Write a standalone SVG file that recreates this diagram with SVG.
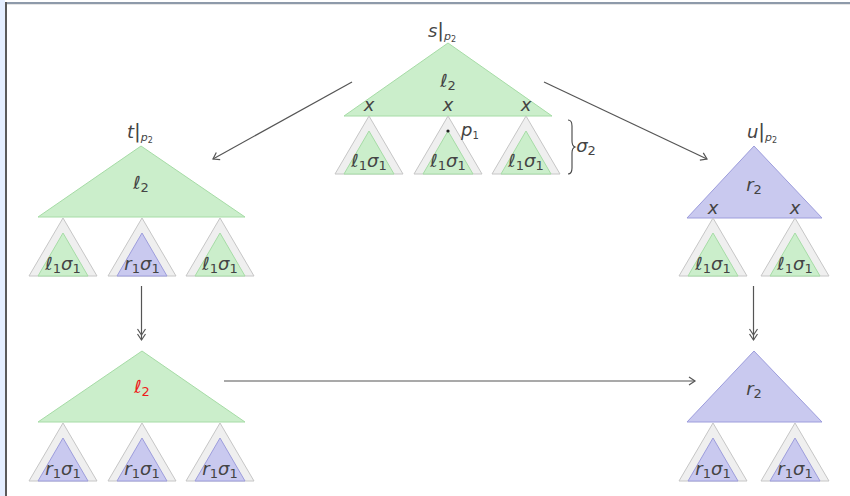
<svg xmlns="http://www.w3.org/2000/svg" width="850" height="496" viewBox="0 0 850 496">
<style>
.bg{fill:#ffffff}
.g{fill:#cbeecb;stroke:#a6dca6;stroke-width:1}
.b{fill:#c9c9ef;stroke:#9d9ddc;stroke-width:1}
.o{fill:#efefef;stroke:#c6c6c6;stroke-width:1}
.t{font-family:"DejaVu Sans",sans-serif;font-size:18px;fill:#444;text-anchor:middle}
.i{font-style:italic}
.s{font-size:13px}
.c{fill:none;stroke:#555;stroke-width:1.2}
.red{fill:#ee1c1c}
</style>
<defs>
<marker id="ah" markerUnits="userSpaceOnUse" markerWidth="14" markerHeight="14" viewBox="-10 -7 14 14" refX="0" refY="0" orient="auto">
<path d="M-6,-4 L0,0 L-6,4" fill="none" stroke="#555" stroke-width="1.2"/>
</marker>
<marker id="ah2" markerUnits="userSpaceOnUse" markerWidth="16" markerHeight="14" viewBox="-12 -7 16 14" refX="0" refY="0" orient="auto">
<path d="M-6,-4 L0,0 L-6,4 M-11,-4 L-5,0 L-11,4" fill="none" stroke="#555" stroke-width="1.2"/>
</marker>
</defs>
<rect x="0" y="0" width="850" height="496" class="bg"/>
<rect x="0" y="0" width="5" height="496" fill="#e4eeff"/>
<rect x="5" y="2" width="845" height="2" fill="#8e9aaa"/>
<rect x="5" y="4" width="845" height="1" fill="#e6e6e6"/>
<rect x="5" y="2" width="2" height="494" fill="#5a5a5a"/>

<g id="connectors">
<line class="c" x1="352" y1="82" x2="213" y2="159" marker-end="url(#ah)"/>
<line class="c" x1="544" y1="82" x2="707" y2="159" marker-end="url(#ah)"/>
<line class="c" x1="141.5" y1="286" x2="141.5" y2="340" marker-end="url(#ah2)"/>
<line class="c" x1="753.5" y1="286" x2="753.5" y2="340" marker-end="url(#ah2)"/>
<line class="c" x1="224" y1="381" x2="695" y2="381" marker-end="url(#ah)"/>
</g>

<g id="s-tree">
<text class="t" x="442" y="37"><tspan class="i">s</tspan><tspan font-size="20">|</tspan><tspan class="i" font-size="11" dy="3">p</tspan><tspan font-size="8" dy="1.5">2</tspan></text>
<polygon class="g" points="448,43 344,116 552,116"/>
<text class="t" x="448" y="87">ℓ<tspan class="s" dy="3">2</tspan></text>
<text class="t i" x="369" y="111" font-size="15">x</text>
<text class="t i" x="448" y="111" font-size="15">x</text>
<text class="t i" x="526" y="111" font-size="15">x</text>
</g>
<g id="s-sub1">
<polygon class="o" points="369,116 335,174 403,174"/>
<polygon class="g" points="369,131 344,174 394,174"/>
<text class="t" x="369" y="167">ℓ<tspan class="s" dy="3">1</tspan><tspan class="i" dy="-3">σ</tspan><tspan class="s" dy="3">1</tspan></text>
</g>
<g id="s-sub2">
<polygon class="o" points="448,116 414,174 482,174"/>
<polygon class="g" points="448,131 423,174 473,174"/>
<circle cx="448" cy="131" r="1.6" fill="#222"/>
<text class="t" x="448" y="167">ℓ<tspan class="s" dy="3">1</tspan><tspan class="i" dy="-3">σ</tspan><tspan class="s" dy="3">1</tspan></text>
<text class="t i" x="470" y="136" font-size="14">p<tspan font-size="10" font-style="normal" dy="3">1</tspan></text>
</g>
<g id="s-sub3">
<polygon class="o" points="526,116 492,174 560,174"/>
<polygon class="g" points="526,131 501,174 551,174"/>
<text class="t" x="526" y="167">ℓ<tspan class="s" dy="3">1</tspan><tspan class="i" dy="-3">σ</tspan><tspan class="s" dy="3">1</tspan></text>
</g>
<g id="sigma2">
<path d="M568,120 Q572,120 572,126 L572,141 Q572,146 575,147 Q572,148 572,153 L572,168 Q572,174 568,174" fill="none" stroke="#444" stroke-width="1.1"/>
<text class="t i" x="586" y="152">σ<tspan class="s" font-style="normal" dy="3">2</tspan></text>
</g>

<g id="t-tree">
<text class="t" x="140" y="138"><tspan class="i">t</tspan><tspan font-size="20">|</tspan><tspan class="i" font-size="11" dy="3">p</tspan><tspan font-size="8" dy="1.5">2</tspan></text>
<polygon class="g" points="141,146 38,217 245,217"/>
<text class="t" x="141" y="189">ℓ<tspan class="s" dy="3">2</tspan></text>
</g>
<g id="t-sub1">
<polygon class="o" points="63,218 29,276 97,276"/>
<polygon class="g" points="63,233 38,276 88,276"/>
<text class="t" x="63" y="270">ℓ<tspan class="s" dy="3">1</tspan><tspan class="i" dy="-3">σ</tspan><tspan class="s" dy="3">1</tspan></text>
</g>
<g id="t-sub2">
<polygon class="o" points="142,218 108,276 176,276"/>
<polygon class="b" points="142,233 117,276 167,276"/>
<text class="t" x="142" y="270"><tspan class="i">r</tspan><tspan class="s" dy="3">1</tspan><tspan class="i" dy="-3">σ</tspan><tspan class="s" dy="3">1</tspan></text>
</g>
<g id="t-sub3">
<polygon class="o" points="220,218 186,276 254,276"/>
<polygon class="g" points="220,233 195,276 245,276"/>
<text class="t" x="220" y="270">ℓ<tspan class="s" dy="3">1</tspan><tspan class="i" dy="-3">σ</tspan><tspan class="s" dy="3">1</tspan></text>
</g>

<g id="u-tree">
<text class="t" x="762" y="138"><tspan class="i">u</tspan><tspan font-size="20">|</tspan><tspan class="i" font-size="11" dy="3">p</tspan><tspan font-size="8" dy="1.5">2</tspan></text>
<polygon class="b" points="754,146 687,218 822,218"/>
<text class="t" x="754" y="191"><tspan class="i">r</tspan><tspan class="s" dy="3">2</tspan></text>
<text class="t i" x="713" y="214" font-size="15">x</text>
<text class="t i" x="795" y="214" font-size="15">x</text>
</g>
<g id="u-sub1">
<polygon class="o" points="713,218 679,276 747,276"/>
<polygon class="g" points="713,233 688,276 738,276"/>
<text class="t" x="713" y="270">ℓ<tspan class="s" dy="3">1</tspan><tspan class="i" dy="-3">σ</tspan><tspan class="s" dy="3">1</tspan></text>
</g>
<g id="u-sub2">
<polygon class="o" points="795,218 761,276 829,276"/>
<polygon class="g" points="795,233 770,276 820,276"/>
<text class="t" x="795" y="270">ℓ<tspan class="s" dy="3">1</tspan><tspan class="i" dy="-3">σ</tspan><tspan class="s" dy="3">1</tspan></text>
</g>

<g id="bl-tree">
<polygon class="g" points="142,351 38,422 245,422"/>
<text class="t red" x="142" y="393">ℓ<tspan class="s" dy="3">2</tspan></text>
</g>
<g id="bl-sub1">
<polygon class="o" points="63,423 29,481 97,481"/>
<polygon class="b" points="63,438 38,481 88,481"/>
<text class="t" x="63" y="475"><tspan class="i">r</tspan><tspan class="s" dy="3">1</tspan><tspan class="i" dy="-3">σ</tspan><tspan class="s" dy="3">1</tspan></text>
</g>
<g id="bl-sub2">
<polygon class="o" points="142,423 108,481 176,481"/>
<polygon class="b" points="142,438 117,481 167,481"/>
<text class="t" x="142" y="475"><tspan class="i">r</tspan><tspan class="s" dy="3">1</tspan><tspan class="i" dy="-3">σ</tspan><tspan class="s" dy="3">1</tspan></text>
</g>
<g id="bl-sub3">
<polygon class="o" points="220,423 186,481 254,481"/>
<polygon class="b" points="220,438 195,481 245,481"/>
<text class="t" x="220" y="475"><tspan class="i">r</tspan><tspan class="s" dy="3">1</tspan><tspan class="i" dy="-3">σ</tspan><tspan class="s" dy="3">1</tspan></text>
</g>

<g id="br-tree">
<polygon class="b" points="754,351 687,422 822,422"/>
<text class="t" x="754" y="395"><tspan class="i">r</tspan><tspan class="s" dy="3">2</tspan></text>
</g>
<g id="br-sub1">
<polygon class="o" points="713,423 679,481 747,481"/>
<polygon class="b" points="713,438 688,481 738,481"/>
<text class="t" x="713" y="475"><tspan class="i">r</tspan><tspan class="s" dy="3">1</tspan><tspan class="i" dy="-3">σ</tspan><tspan class="s" dy="3">1</tspan></text>
</g>
<g id="br-sub2">
<polygon class="o" points="795,423 761,481 829,481"/>
<polygon class="b" points="795,438 770,481 820,481"/>
<text class="t" x="795" y="475"><tspan class="i">r</tspan><tspan class="s" dy="3">1</tspan><tspan class="i" dy="-3">σ</tspan><tspan class="s" dy="3">1</tspan></text>
</g>
</svg>
